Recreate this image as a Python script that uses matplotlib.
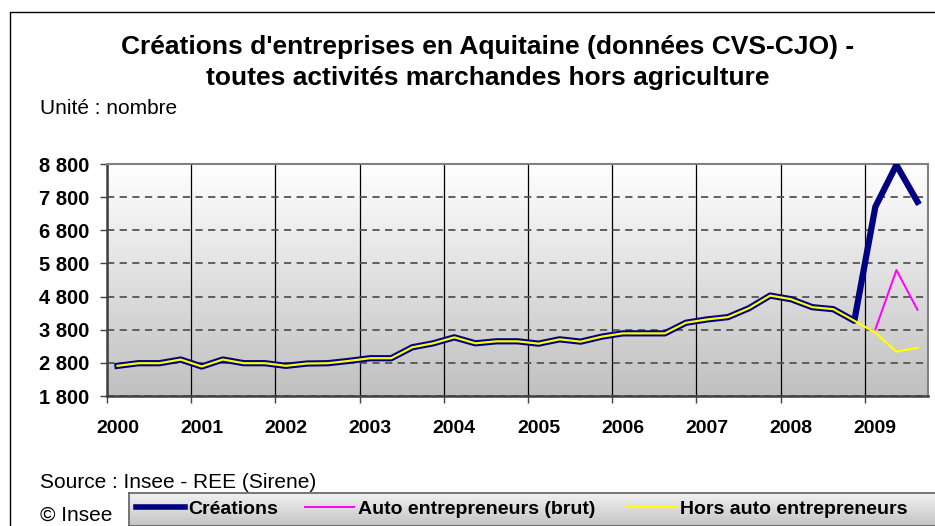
import numpy as np
import matplotlib.pyplot as plt
from matplotlib.colors import LinearSegmentedColormap
from matplotlib.lines import Line2D
from matplotlib.patches import Rectangle

# Données trimestrielles 2000T1 - 2009T3
years = [2000, 2001, 2002, 2003, 2004, 2005, 2006, 2007, 2008, 2009]
creations = [2710, 2790, 2790, 2900,
             2690, 2900, 2790, 2790,
             2710, 2780, 2790, 2860,
             2940, 2940, 3270, 3390,
             3570, 3390, 3450, 3450,
             3380, 3510, 3440, 3590,
             3690, 3690, 3690, 4010,
             4110, 4180, 4450, 4830,
             4720, 4480, 4420, 4070,
             7510, 8770, 7660]
hors_auto = [2710, 2790, 2790, 2900,
             2690, 2900, 2790, 2790,
             2710, 2780, 2790, 2860,
             2940, 2940, 3270, 3390,
             3570, 3390, 3450, 3450,
             3380, 3510, 3440, 3590,
             3690, 3690, 3690, 4010,
             4110, 4180, 4450, 4830,
             4720, 4480, 4420, 4070,
             3710, 3140, 3250]
auto_brut = [np.nan] * 36 + [3810, 5600, 4400]
y_ticks = [1800, 2800, 3800, 4800, 5800, 6800, 7800, 8800]
y_labels = ["1 800", "2 800", "3 800", "4 800", "5 800", "6 800", "7 800", "8 800"]

W, H = 935, 526


def fx(px):
    return px / W


def fy(py):
    return 1 - py / H


fig = plt.figure(figsize=(W / 100, H / 100), dpi=100)
plt.rcParams['font.family'] = ['Liberation Sans', 'DejaVu Sans']

# Cadre du graphique
fig.patches.append(Rectangle((fx(10), fy(540)), 1.2, fy(12) - fy(540), transform=fig.transFigure,
                             facecolor='none', edgecolor='black', linewidth=1.0))

ax = fig.add_axes([fx(107), fy(396), fx(928) - fx(107), fy(164) - fy(396)])

# Fond dégradé
grad = LinearSegmentedColormap.from_list('grad', ['#c0c0c0', '#ffffff'])
ax.imshow(np.linspace(0, 1, 256).reshape(-1, 1), cmap=grad, origin='lower', aspect='auto',
          extent=[0, 1, 0, 1], transform=ax.transAxes, zorder=0)

x = np.arange(len(creations)) + 0.5
ax.plot(x, creations, color='#000080', linewidth=4.5, solid_joinstyle='round', zorder=3)
ax.plot(x, auto_brut, color='#ff00ff', linewidth=1.4, zorder=4)
ax.plot(x, hors_auto, color='#ffff00', linewidth=1.6, zorder=5)

ax.set_xlim(0, len(creations))
ax.set_ylim(y_ticks[0], y_ticks[-1])

ax.set_yticks(y_ticks)
ax.set_yticklabels(y_labels, fontsize=14.5, fontweight='bold')
ax.set_xticks(np.arange(0, len(creations), 4))
ax.set_xticklabels([])
ax.set_xticks(np.arange(len(years)) * 4 + 0.5, minor=True)
ax.set_xticklabels([str(a) for a in years], minor=True, fontsize=14, fontweight='bold')
ax.tick_params(axis='y', direction='out', length=5, width=1, color='#404040', pad=8)
ax.tick_params(axis='x', which='major', direction='out', length=5, width=1, color='#404040')
ax.tick_params(axis='x', which='minor', length=0, pad=17)

ax.set_axisbelow(True)
ax.yaxis.grid(True, linestyle=(0, (4, 3)), color='#555555', linewidth=1.3)
ax.xaxis.grid(True, which='major', color='black', linewidth=0.9)

for side in ['top', 'right']:
    ax.spines[side].set_color('#808080')
    ax.spines[side].set_linewidth(1.5)
for side in ['left', 'bottom']:
    ax.spines[side].set_color('#404040')
    ax.spines[side].set_linewidth(1.8)

# Titres et notes
fig.text(fx(488), fy(47), "Créations d'entreprises en Aquitaine (données CVS-CJO) -",
         ha='center', va='center', fontsize=19, fontweight='bold')
fig.text(fx(488), fy(78), "toutes activités marchandes hors agriculture",
         ha='center', va='center', fontsize=19, fontweight='bold')
fig.text(fx(40), fy(108), "Unité : nombre", ha='left', va='center', fontsize=15)
fig.text(fx(40), fy(482), "Source : Insee - REE (Sirene)", ha='left', va='center', fontsize=15)
fig.text(fx(40), fy(525), "© Insee", ha='left', va='bottom', fontsize=15)

# Légende (fond dégradé gris)
lax = fig.add_axes([fx(129), fy(526), 1 - fx(129) + 0.01, fy(493) - fy(526)])
lax.imshow(np.linspace(0, 1, 64).reshape(-1, 1),
           cmap=LinearSegmentedColormap.from_list('lg', ['#c4c4c4', '#f2f2f2']),
           origin='lower', aspect='auto', extent=[0, 1, 0, 1])
lax.set_xticks([])
lax.set_yticks([])
for s in lax.spines.values():
    s.set_color('#606060')
    s.set_linewidth(1.2)

entries = [("Créations", '#000080', 4.0, 136),
           ("Auto entrepreneurs (brut)", '#ff00ff', 1.4, 305),
           ("Hors auto entrepreneurs", '#ffff00', 1.6, 627)]
for label, col, lw, left in entries:
    fig.legend([Line2D([], [], color=col, linewidth=lw)], [label], loc='center left',
               bbox_to_anchor=(fx(left), fy(509)), frameon=False, borderpad=0, borderaxespad=0,
               handlelength=2.5, handletextpad=0.2, prop={'weight': 'bold', 'size': 14})

fig.savefig('out.png', dpi=100)
